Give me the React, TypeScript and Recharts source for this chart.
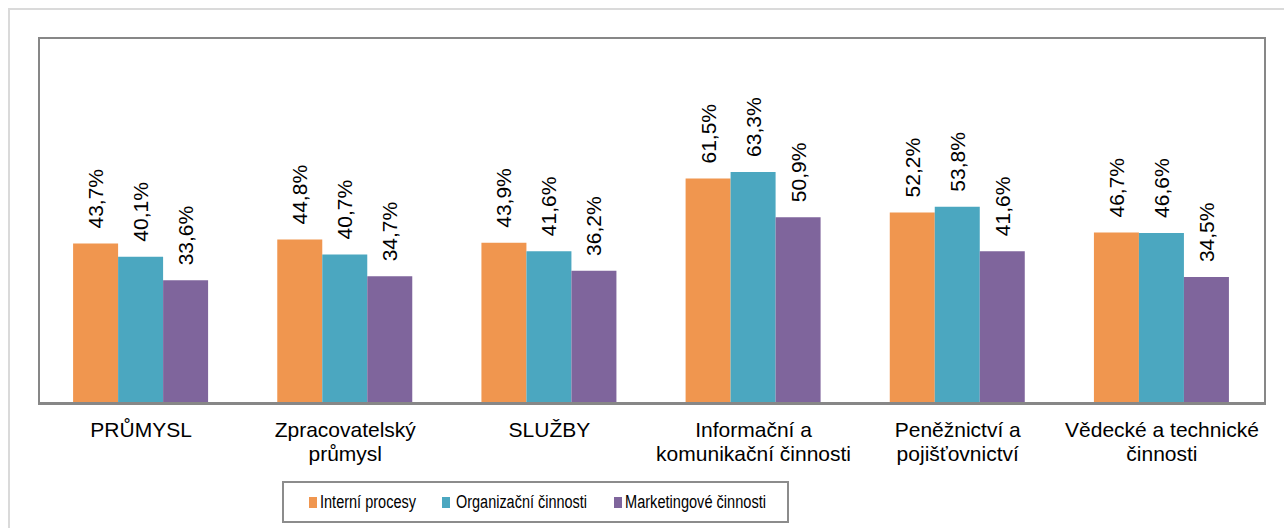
import React from 'react';
import { BarChart, Bar, XAxis, YAxis, LabelList } from 'recharts';

const categories = [
  'PRŮMYSL',
  'Zpracovatelský\nprůmysl',
  'SLUŽBY',
  'Informační a\nkomunikační činnosti',
  'Peněžnictví a\npojišťovnictví',
  'Vědecké a technické\nčinnosti',
];
const interni = [43.7, 44.8, 43.9, 61.5, 52.2, 46.7];
const organizacni = [40.1, 40.7, 41.6, 63.3, 53.8, 46.6];
const marketing = [33.6, 34.7, 36.2, 50.9, 41.6, 34.5];
const seriesNames = ['Interní procesy', 'Organizační činnosti', 'Marketingové činnosti'];
const colors = ['#F0964F', '#4BA7C0', '#7F659C'];

const data = categories.map((c, i) => ({
  name: c,
  a: interni[i],
  b: organizacni[i],
  c: marketing[i],
}));

const FONT = '"Liberation Sans", Arial, sans-serif';

const fmt = (v: number) => v.toFixed(1).replace('.', ',') + '%';

const ValueLabel = (props: any) => {
  const { x, y, width, value } = props;
  const cx = Number(x) + Number(width) / 2 + 7.5;
  const by = Number(y) - 15;
  return (
    <text
      x={cx}
      y={by}
      transform={`rotate(-90 ${cx} ${by})`}
      textAnchor="start"
      fontSize={21}
      fill="#000"
      fontFamily={FONT}
    >
      {fmt(Number(value))}
    </text>
  );
};

const CategoryTick = (props: any) => {
  const { x, y, payload } = props;
  const lines = String(payload.value).split('\n');
  return (
    <text x={x} y={y} textAnchor="middle" fontSize={21} fill="#000" fontFamily={FONT}>
      {lines.map((l, i) => (
        <tspan key={i} x={x} dy={i === 0 ? 34 : 24}>
          {l}
        </tspan>
      ))}
    </text>
  );
};

const legendSquares = [27, 160, 332];
const legendTexts = [38, 174, 343];
const legendLens = [96, 131, 141];

const LegendBox = () => (
  <svg
    width={507}
    height={42}
    style={{ position: 'absolute', left: 282, top: 481 }}
  >
    <rect x={1} y={1} width={505} height={40} fill="#fff" stroke="#8c8c8c" strokeWidth={2} />
    {seriesNames.map((n, i) => (
      <g key={n}>
        <rect x={legendSquares[i]} y={16} width={8} height={11} fill={colors[i]} />
        <text
          x={legendTexts[i]}
          y={27}
          fontSize={18}
          fontFamily={FONT}
          fill="#000"
          textLength={legendLens[i]}
          lengthAdjust="spacingAndGlyphs"
        >
          {n}
        </text>
      </g>
    ))}
  </svg>
);

export default function App() {
  return (
    <div
      style={{
        position: 'absolute',
        left: 0,
        top: 0,
        width: 1284,
        height: 528,
        overflow: 'hidden',
        background: '#fff',
        fontFamily: FONT,
      }}
    >
      <div
        style={{
          position: 'absolute',
          left: 8,
          top: 8,
          width: 1400,
          height: 600,
          border: '2px solid #dadada',
          boxSizing: 'border-box',
        }}
      />
      <div style={{ position: 'absolute', left: 0, top: 0 }}>
        <BarChart
          width={1284}
          height={528}
          data={data}
          margin={{ top: 38, right: 20, bottom: 0, left: 39 }}
          barCategoryGap="16.7%"
          barGap={0}
        >
          <YAxis hide domain={[0, 100]} />
          <XAxis
            dataKey="name"
            height={125}
            axisLine={{ stroke: '#878787', strokeWidth: 2 }}
            tickLine={false}
            tickSize={0}
            tickMargin={0}
            interval={0}
            tick={<CategoryTick />}
          />
          <Bar dataKey="a" name={seriesNames[0]} fill={colors[0]} isAnimationActive={false}>
            <LabelList dataKey="a" content={<ValueLabel />} />
          </Bar>
          <Bar dataKey="b" name={seriesNames[1]} fill={colors[1]} isAnimationActive={false}>
            <LabelList dataKey="b" content={<ValueLabel />} />
          </Bar>
          <Bar dataKey="c" name={seriesNames[2]} fill={colors[2]} isAnimationActive={false}>
            <LabelList dataKey="c" content={<ValueLabel />} />
          </Bar>
        </BarChart>
      </div>
      <div
        style={{
          position: 'absolute',
          left: 38,
          top: 37,
          width: 1228,
          height: 368,
          border: '2px solid #878787',
          boxSizing: 'border-box',
          pointerEvents: 'none',
        }}
      />
      <LegendBox />
    </div>
  );
}
